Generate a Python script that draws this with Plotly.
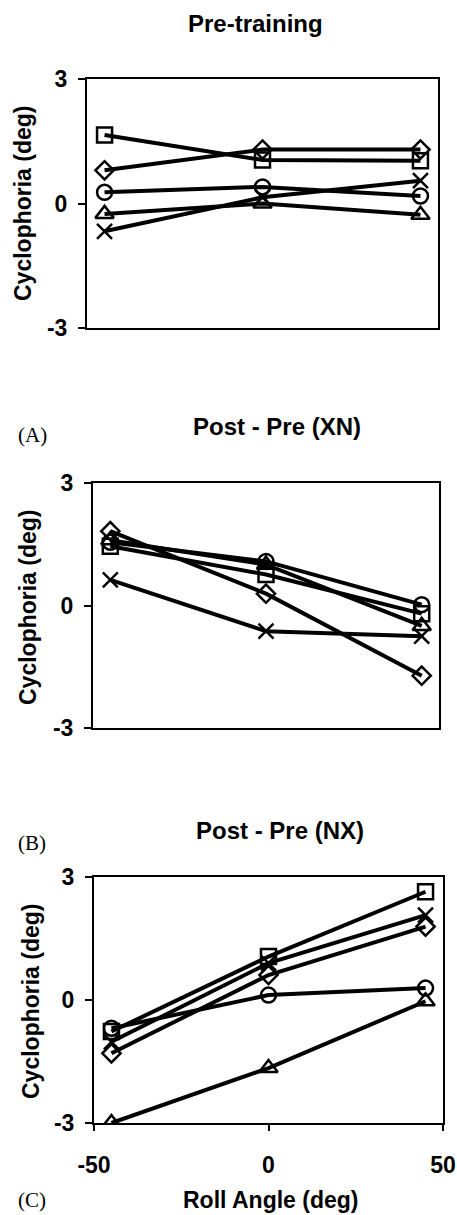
import plotly.graph_objects as go

W, H = 457, 1215

roll_angle = [-45, 0, 45]
series_names = ["Square", "Diamond", "Circle", "Triangle", "X"]
symbols = ["square-open", "diamond-open", "circle-open", "triangle-up-open", "x-thin-open"]

pre_training = {
    "Square": [1.65, 1.05, 1.03],
    "Diamond": [0.80, 1.30, 1.30],
    "Circle": [0.27, 0.40, 0.18],
    "Triangle": [-0.25, 0.0, -0.27],
    "X": [-0.67, 0.15, 0.55],
}
post_pre_xn = {
    "Square": [1.45, 0.76, -0.20],
    "Diamond": [1.82, 0.29, -1.72],
    "Circle": [1.55, 1.08, 0.02],
    "Triangle": [1.60, 1.00, -0.50],
    "X": [0.63, -0.63, -0.75],
}
post_pre_nx = {
    "Square": [-0.77, 1.06, 2.64],
    "Diamond": [-1.30, 0.61, 1.79],
    "Circle": [-0.69, 0.12, 0.29],
    "Triangle": [-3.0, -1.66, -0.03],
    "X": [-1.02, 0.90, 2.07],
}

panel_titles = ["Pre-training", "Post - Pre (XN)", "Post - Pre (NX)"]
panel_letters = ["(A)", "(B)", "(C)"]
y_title = "Cyclophoria (deg)"
x_title = "Roll Angle (deg)"
y_ticks = [-3, 0, 3]
x_ticks = [-50, 0, 50]

# pixel boxes: (left, right, top, bottom)
boxes = [(87, 438, 79, 328), (93, 439, 483, 728), (94, 443, 877, 1123)]
label_standoff = [6, 6, 6]

def px(x):
    return x / W

def py(y):
    return 1 - y / H

fig = go.Figure()
datasets = [pre_training, post_pre_xn, post_pre_nx]
FS = 23
bold = dict(family="Liberation Sans, Arial, sans-serif", color="black", size=FS, weight="bold")
bold_title = dict(bold, size=24)

for i, (data, box) in enumerate(zip(datasets, boxes)):
    n = i + 1
    xa = "x" if n == 1 else f"x{n}"
    ya = "y" if n == 1 else f"y{n}"
    for name, sym in zip(series_names, symbols):
        size = {"square-open": 15, "diamond-open": 14, "circle-open": 15,
                "triangle-up-open": 16, "x-thin-open": 15}[sym]
        fig.add_trace(go.Scatter(
            x=roll_angle, y=data[name], mode="lines+markers",
            xaxis=xa, yaxis=ya, showlegend=False, name=name,
            line=dict(color="black", width=4),
            marker=dict(symbol=sym, size=size,
                        color="black", line=dict(color="black", width=2.5)),
        ))
    l, r, t, b = box
    last = (n == 3)
    fig.update_layout(**{
        ("xaxis" if n == 1 else f"xaxis{n}"): dict(
            domain=[px(l), px(r)], range=[-50, 50], anchor=ya, automargin=False,
            showline=True, mirror=True, linecolor="black", linewidth=2,
            showgrid=False, zeroline=False,
            tickvals=x_ticks if last else [], ticktext=[str(v) for v in x_ticks] if last else [],
            ticks="outside" if last else "", ticklen=6, tickwidth=1.5, tickcolor="black",
            showticklabels=last, tickfont=bold, ticklabelstandoff=14,
        ),
        ("yaxis" if n == 1 else f"yaxis{n}"): dict(
            domain=[py(b), py(t)], range=[-3, 3], anchor=xa, automargin=False,
            showline=True, mirror=True, linecolor="black", linewidth=2,
            showgrid=False, zeroline=False,
            tickvals=y_ticks, ticktext=[str(v) for v in y_ticks],
            ticks="outside", ticklen=7, tickwidth=1.5, tickcolor="black",
            tickfont=bold, ticklabelstandoff=label_standoff[i],
        ),
    })

title_pos = [(255, 23), (277, 426), (280, 830)]
ytitle_pos = [(23, 203), (28, 607), (31, 1001)]
letter_pos = [(16, 435), (16, 843), (16, 1200)]

for (tx, ty), txt in zip(title_pos, panel_titles):
    fig.add_annotation(x=px(tx), y=py(ty), xref="paper", yref="paper", text=txt,
                       showarrow=False, xanchor="center", yanchor="middle", font=bold_title)
for (tx, ty) in ytitle_pos:
    fig.add_annotation(x=px(tx), y=py(ty), xref="paper", yref="paper", text=y_title,
                       textangle=-90, showarrow=False, xanchor="center", yanchor="middle", font=bold)
for (tx, ty), txt in zip(letter_pos, panel_letters):
    fig.add_annotation(x=px(tx), y=py(ty), xref="paper", yref="paper", text=txt,
                       showarrow=False, xanchor="left", yanchor="middle",
                       font=dict(family="Liberation Serif, Times New Roman, serif", size=21, color="black"))
fig.add_annotation(x=px(270), y=py(1214), xref="paper", yref="paper", text=x_title,
                   showarrow=False, xanchor="center", yanchor="bottom", borderpad=0,
                   font=dict(bold, size=23))

fig.update_layout(template="none", width=W, height=H, margin=dict(l=0, r=0, t=0, b=0),
                  paper_bgcolor="white", plot_bgcolor="white", showlegend=False)

fig.write_html("out.html", config={"displayModeBar": False},
               post_script="document.body.style.margin='0px';document.body.style.overflow='hidden';")
